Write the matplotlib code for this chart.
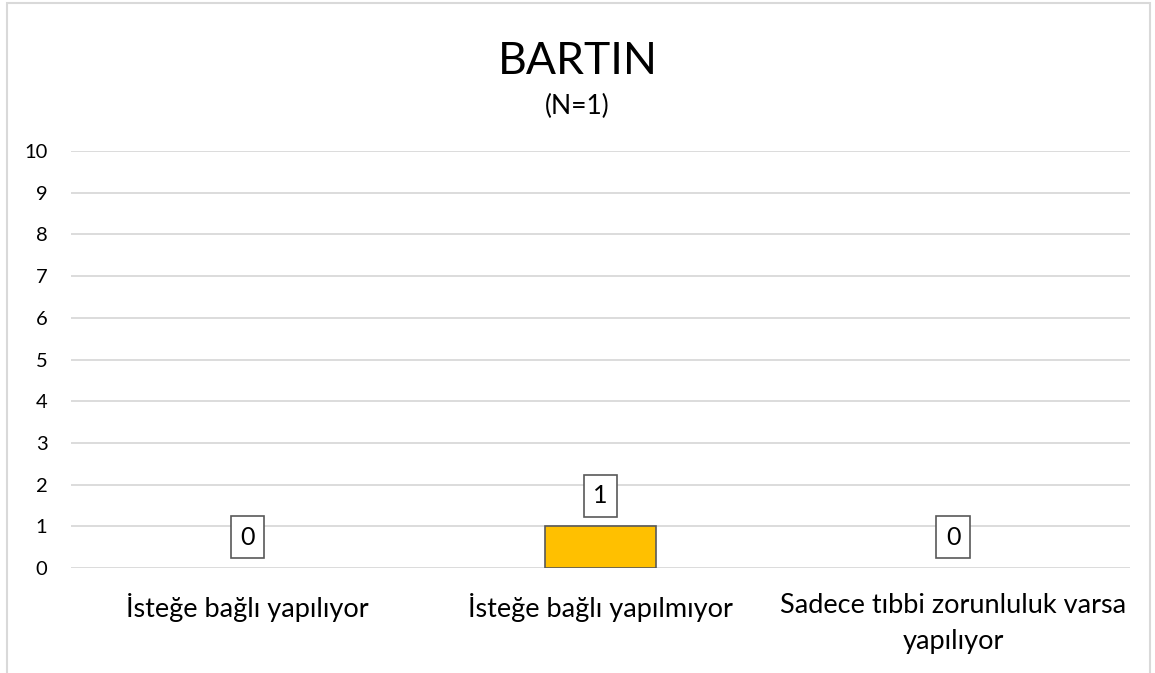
import matplotlib
matplotlib.use("Agg")
import matplotlib.pyplot as plt
from matplotlib.patches import Rectangle

# veriler
categories = ["İsteğe bağlı yapılıyor", "İsteğe bağlı yapılmıyor",
              "Sadece tıbbi zorunluluk varsa\nyapılıyor"]
values = [0, 1, 0]
yticks = list(range(0, 11))
title = "BARTIN"
subtitle = "(N=1)"

BAR = "#FFC000"; EDGE = "#595959"; GRID = "#D9D9D9"; TXT = "#000000"

plt.rcParams["font.family"] = ["Lato", "DejaVu Sans"]

fig = plt.figure(figsize=(11.55, 6.73), dpi=100)
ax = fig.add_axes([0.0615, 0.156, 0.9165, 0.6196])

x = list(range(len(categories)))
ax.bar(x, values, width=0.314, color=BAR, edgecolor=EDGE,
       linewidth=[1.2 if v else 0 for v in values], zorder=3)

for xi, v in zip(x, values):
    ax.annotate(str(v), (xi, v), xytext=(0, 22), textcoords="offset points",
                ha="center", va="center", fontsize=18, color=TXT, zorder=4,
                bbox=dict(boxstyle="square,pad=0.38", fc="white", ec=EDGE, lw=1.2))

ax.set_xlim(-0.5, 2.5)
ax.set_ylim(0, 10)
ax.set_yticks(yticks)
ax.set_xticks(x)
ax.set_xticklabels(categories, fontsize=19.5, color=TXT, linespacing=1.55)
ax.tick_params(axis="y", labelsize=14.5, length=0, pad=17, colors=TXT)
ax.tick_params(axis="x", length=0, pad=18)
ax.grid(axis="y", color=GRID, lw=1.3, zorder=0)
for s in ax.spines.values():
    s.set_visible(False)

fig.text(0.5, 1 - 62 / 673, title, ha="center", va="center", fontsize=32, color=TXT)
fig.text(0.5, 1 - 106 / 673, subtitle, ha="center", va="center", fontsize=19, color=TXT)

# çerçeve
fig.patches.append(Rectangle((7 / 1155, -0.01), 1143 / 1155, 1.01 - 3 / 673,
                             transform=fig.transFigure, fill=False,
                             ec=GRID, lw=1.5))

fig.savefig("out.png", dpi=100, facecolor="white")
